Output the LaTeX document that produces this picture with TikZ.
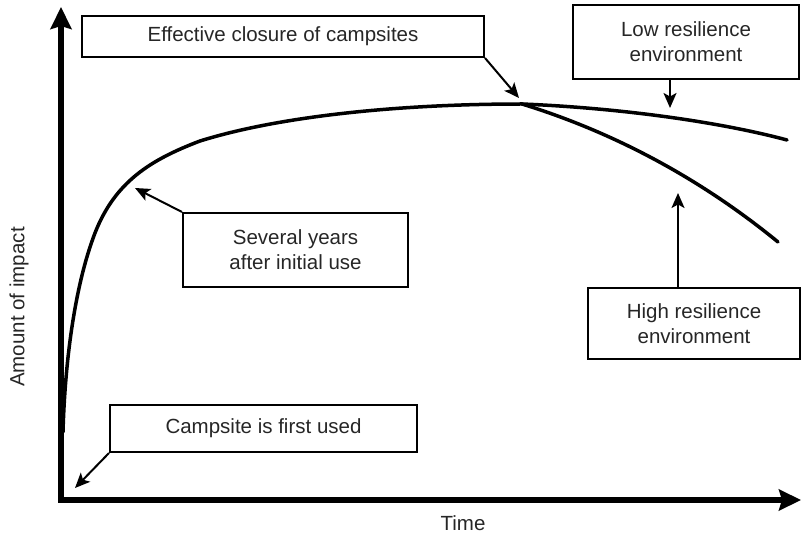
\documentclass[tikz,border=0pt]{standalone}
\usepackage{fontspec}
\setmainfont{Liberation Sans}
\usetikzlibrary{arrows.meta}
\begin{document}
\begin{tikzpicture}[x=1pt,y=-1pt,
  label text/.style={text=black!85, font=\fontsize{20.5}{25}\selectfont, align=center},
  callout/.style={label text, draw=black, line width=2pt, inner sep=0pt},
  axis/.style={line width=5.5pt, {Stealth[length=22pt,width=21pt,inset=3pt]}-{Stealth[length=22pt,width=21pt,inset=3pt]}},
  impact/.style={line width=3.5pt, line cap=round, line join=round},
  pointer/.style={line width=2pt, -{Stealth[length=15pt,width=13pt,inset=3.5pt]}}]
\useasboundingbox (0,0) rectangle (802,534);

% axes
\coordinate (ytop) at (61,7);
\coordinate (origin) at (61,500);
\coordinate (xend) at (801,500);
\draw[axis] (ytop) -- (origin) -- (xend);
\node[label text, rotate=90] (ylab) at (19,307) {Amount of impact};
\node[label text] (xlab) at (463,523) {Time};

% impact curve: steep rise levelling off to the peak
\coordinate (start) at (63,432);
\coordinate (peak) at (522,104);
\coordinate (lowend) at (787,140);
\coordinate (highend) at (778,242);
\draw[impact] (start)
  .. controls (65,360) and (75,285) .. (95,233)
  .. controls (115,182) and (150,160) .. (200,141)
  .. controls (280,116) and (400,104) .. (peak);
% recovery branches
\draw[impact] (peak) .. controls (620,108) and (720,122) .. (lowend);
\draw[impact] (peak) .. controls (600,128) and (690,170) .. (highend);

% callout boxes
\node[callout, minimum width=402pt, minimum height=41pt] (eff) at (283,36.5)
  {Effective closure of campsites};
\node[callout, minimum width=226pt, minimum height=74pt] (low) at (686,42)
  {Low resilience\\environment};
\node[callout, minimum width=225pt, minimum height=74pt] (sev) at (295.5,250)
  {Several years\\after initial use};
\node[callout, minimum width=212pt, minimum height=71pt] (high) at (694,323.5)
  {High resilience\\environment};
\node[callout, minimum width=307pt, minimum height=47pt] (camp) at (263.5,428.5)
  {Campsite is first used};

% pointers from the boxes to the curve
\coordinate (effpt) at (519,98);
\coordinate (lowpt) at (670,108);
\coordinate (sevpt) at (135,188);
\coordinate (highpt) at (678,193);
\coordinate (camppt) at (75,488);
\draw[pointer] (eff.south east) -- (effpt);
\draw[pointer] (low.south -| lowpt) -- (lowpt);
\draw[pointer] (sev.north west) -- (sevpt);
\draw[pointer] (high.north -| highpt) -- (highpt);
\draw[pointer] (camp.south west) -- (camppt);
\end{tikzpicture}
\end{document}
